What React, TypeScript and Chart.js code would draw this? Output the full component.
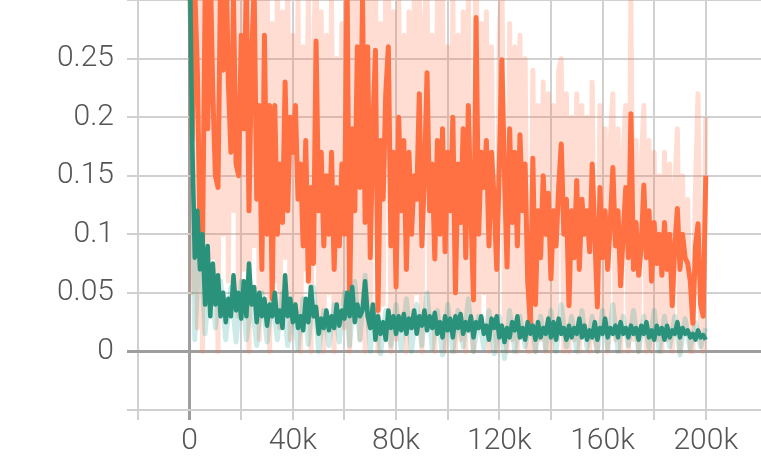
import React, { useEffect, useRef } from "react";
import { Chart, registerables } from "chart.js";

Chart.register(...registerables);

// step spacing (training steps) for the two sampling densities
const FINE_STEP = 1000;
const COARSE_STEP = 2000;

const ORANGE_SMOOTH = [
  0.34, 0.18, 0.31, 0.24, 0.10, 0.09, 0.30, 0.19, 0.33, 0.22,
  0.15, 0.14, 0.32, 0.24, 0.35, 0.23, 0.17, 0.30, 0.16, 0.15,
  0.27, 0.19, 0.32, 0.12, 0.25, 0.31, 0.13, 0.21, 0.07, 0.27,
  0.10, 0.21, 0.045, 0.21, 0.10, 0.16, 0.11, 0.23, 0.12, 0.20,
  0.17, 0.21, 0.13, 0.16, 0.09, 0.18, 0.06, 0.14, 0.075, 0.265,
  0.12, 0.17, 0.09, 0.15, 0.10, 0.17, 0.07, 0.14, 0.09, 0.16,
  0.10, 0.32, 0.04, 0.19, 0.12, 0.26, 0.14, 0.30, 0.11, 0.26,
  0.08, 0.19, 0.257, 0.035, 0.18, 0.13, 0.22, 0.26, 0.09, 0.17,
  0.055, 0.20, 0.12, 0.18, 0.07, 0.17, 0.10, 0.15, 0.13, 0.22,
  0.09, 0.15, 0.238, 0.12, 0.16, 0.079, 0.18, 0.10, 0.19, 0.085,
  0.17, 0.12, 0.20, 0.05, 0.16, 0.11, 0.19, 0.08, 0.21, 0.12,
  0.044, 0.285, 0.10, 0.17, 0.14, 0.18, 0.09, 0.17, 0.13, 0.07,
  0.16, 0.249, 0.15, 0.072, 0.19, 0.11, 0.17, 0.09, 0.185, 0.12,
  0.16, 0.06, 0.024, 0.165, 0.04, 0.12, 0.08, 0.15, 0.10, 0.135,
  0.062, 0.12, 0.09, 0.14, 0.177, 0.10, 0.13, 0.039, 0.12, 0.08,
  0.146, 0.07, 0.13, 0.10, 0.12, 0.085, 0.16, 0.10, 0.038, 0.14,
  0.08, 0.12, 0.07, 0.11, 0.157, 0.09, 0.12, 0.056, 0.10, 0.14,
  0.08, 0.203, 0.07, 0.11, 0.065, 0.09, 0.142, 0.08, 0.12, 0.06,
  0.11, 0.075, 0.10, 0.065, 0.11, 0.07, 0.10, 0.039, 0.09, 0.122,
  0.07, 0.10, 0.08, 0.075, 0.06, 0.024, 0.09, 0.109, 0.04, 0.03,
  0.15,
];

const ORANGE_RAW = [
  0.45, 0.05, 0.42, 0.02, 0.38, 0.0, 0.50, 0.04, 0.40, 0.08,
  0.36, 0.0, 0.44, 0.10, 0.47, 0.06, 0.33, 0.12, 0.41, 0.03,
  0.38, 0.07, 0.43, 0.0, 0.36, 0.09, 0.39, 0.01, 0.30, 0.05,
  0.34, 0.0, 0.28, 0.06, 0.31, 0.02, 0.29, 0.08, 0.33, 0.01,
  0.27, 0.04, 0.30, 0.0, 0.26, 0.07, 0.31, 0.0, 0.24, 0.35,
  0.03, 0.29, 0.0, 0.27, 0.05, 0.30, 0.0, 0.25, 0.04, 0.28,
  0.02, 0.42, 0.0, 0.31, 0.03, 0.36, 0.01, 0.40, 0.0, 0.33,
  0.02, 0.30, 0.34, 0.0, 0.28, 0.04, 0.32, 0.35, 0.0, 0.29,
  0.01, 0.31, 0.03, 0.27, 0.0, 0.29, 0.02, 0.30, 0.05, 0.33,
  0.0, 0.28, 0.32, 0.03, 0.27, 0.0, 0.30, 0.02, 0.31, 0.0,
  0.26, 0.03, 0.30, 0.0, 0.27, 0.01, 0.29, 0.0, 0.31, 0.04,
  0.0, 0.38, 0.02, 0.28, 0.05, 0.29, 0.0, 0.26, 0.03, 0.0,
  0.27, 0.33, 0.02, 0.0, 0.28, 0.01, 0.26, 0.0, 0.27, 0.02,
  0.25, 0.0, 0.0, 0.24, 0.0, 0.21, 0.01, 0.23, 0.0, 0.22,
  0.0, 0.21, 0.01, 0.24, 0.25, 0.0, 0.22, 0.0, 0.20, 0.01,
  0.22, 0.0, 0.21, 0.02, 0.20, 0.0, 0.23, 0.01, 0.0, 0.21,
  0.02, 0.19, 0.0, 0.18, 0.22, 0.01, 0.19, 0.0, 0.17, 0.21,
  0.0, 0.30, 0.01, 0.18, 0.0, 0.16, 0.21, 0.0, 0.18, 0.0,
  0.17, 0.01, 0.15, 0.0, 0.17, 0.01, 0.16, 0.0, 0.14, 0.19,
  0.0, 0.15, 0.02, 0.13, 0.0, 0.0, 0.14, 0.22, 0.01, 0.0,
  0.20,
];

const TEAL_SMOOTH = [
  0.35, 0.18, 0.08, 0.12, 0.07, 0.10, 0.04, 0.09, 0.03, 0.075,
  0.04, 0.065, 0.03, 0.05, 0.025, 0.045, 0.03, 0.065, 0.035, 0.05,
  0.028, 0.06, 0.03, 0.075, 0.04, 0.055, 0.025, 0.05, 0.03, 0.045,
  0.022, 0.04, 0.03, 0.05, 0.025, 0.035, 0.02, 0.065, 0.03, 0.045,
  0.025, 0.04, 0.02, 0.03, 0.018, 0.045, 0.025, 0.055, 0.03, 0.038,
  0.015, 0.028, 0.02, 0.035, 0.018, 0.03, 0.02, 0.04, 0.022, 0.035,
  0.028, 0.05, 0.03, 0.055, 0.025, 0.04, 0.03, 0.035, 0.06, 0.03,
  0.02, 0.04, 0.01, 0.03, 0.015, 0.025, 0.01, 0.035, 0.02, 0.03,
  0.015, 0.03, 0.018, 0.032, 0.015, 0.028, 0.02, 0.035, 0.015, 0.03,
  0.022, 0.035, 0.018, 0.03, 0.02, 0.033, 0.015, 0.025, 0.012, 0.03,
  0.018, 0.028, 0.012, 0.03, 0.02, 0.032, 0.015, 0.025, 0.018, 0.03,
  0.012, 0.025, 0.02, 0.03, 0.015, 0.022, 0.01, 0.028, 0.02, 0.03,
  0.012, 0.022, 0.008, 0.02, 0.012, 0.025, 0.018, 0.03, 0.012, 0.02,
  0.01, 0.025, 0.015, 0.022, 0.01, 0.025, 0.012, 0.02, 0.015, 0.028,
  0.012, 0.025, 0.01, 0.028, 0.015, 0.02, 0.01, 0.022, 0.012, 0.02,
  0.015, 0.028, 0.012, 0.022, 0.01, 0.018, 0.012, 0.025, 0.01, 0.02,
  0.015, 0.028, 0.012, 0.02, 0.015, 0.022, 0.012, 0.025, 0.015, 0.02,
  0.012, 0.022, 0.015, 0.02, 0.01, 0.022, 0.015, 0.025, 0.012, 0.018,
  0.01, 0.022, 0.015, 0.02, 0.01, 0.022, 0.012, 0.018, 0.015, 0.025,
  0.012, 0.02, 0.015, 0.018, 0.012, 0.015, 0.01, 0.018, 0.012, 0.014,
  0.01,
];

const TEAL_RAW = [
  0.32, 0.01, 0.10, 0.015, 0.07, 0.02, 0.06, 0.01, 0.055, 0.008,
  0.06, 0.01, 0.045, 0.005, 0.05, 0.008, 0.045, 0.01, 0.05, 0.005,
  0.04, 0.002, 0.045, 0.006, 0.055, 0.0, 0.035, 0.005, 0.04, 0.008,
  0.05, 0.005, 0.06, 0.01, 0.065, 0.0, 0.04, -0.002, 0.035, 0.005,
  0.04, 0.002, 0.045, 0.0, 0.04, 0.005, 0.05, 0.002, 0.035, -0.003,
  0.04, 0.0, 0.035, 0.004, 0.045, 0.0, 0.03, 0.003, 0.035, -0.002,
  0.03, -0.006, 0.035, 0.0, 0.03, 0.004, 0.035, 0.0, 0.03, 0.002,
  0.035, 0.0, 0.04, 0.004, 0.03, 0.0, 0.035, 0.003, 0.03, 0.0,
  0.035, 0.002, 0.04, 0.0, 0.03, 0.005, 0.035, 0.0, 0.03, 0.003,
  0.035, 0.0, 0.03, 0.004, 0.03, -0.003, 0.028, 0.002, 0.025, 0.004,
  0.02,
];

// x grid lines every 20k; only some carry a label
const X_GRID = [-20000, 0, 20000, 40000, 60000, 80000, 100000, 120000, 140000, 160000, 180000, 200000, 220000];
const X_TICK_VALUES = [0, 40000, 80000, 120000, 160000, 200000];
const X_TICK_TEXT = ["0", "40k", "80k", "120k", "160k", "200k"];
const Y_LABELS = ["0", "0.05", "0.1", "0.15", "0.2", "0.25"];

const toPoints = (arr: number[], step: number) =>
  arr.map((y, i) => ({ x: i * step, y }));

const FONT = { family: "Roboto", size: 30, weight: "300" as any, lineHeight: 1.2 };
const TEXT_COLOR = "#555555";
const GRID = "#d0d0d0";
const ZERO = "#9e9e9e";

export default function App() {
  const ref = useRef<HTMLCanvasElement | null>(null);

  useEffect(() => {
    if (!ref.current) return;
    const chart = new Chart(ref.current, {
      type: "line",
      data: {
        datasets: [
          {
            data: toPoints(TEAL_SMOOTH, FINE_STEP),
            borderColor: "#2a917b",
            borderWidth: 4.5,
            pointRadius: 0,
            tension: 0,
            borderJoinStyle: "round",
          },
          {
            data: toPoints(ORANGE_SMOOTH, FINE_STEP),
            borderColor: "#ff7043",
            borderWidth: 5,
            pointRadius: 0,
            tension: 0,
            borderJoinStyle: "round",
          },
          {
            data: toPoints(TEAL_RAW, COARSE_STEP),
            borderColor: "rgba(0,150,136,0.2)",
            borderWidth: 5,
            pointRadius: 0,
            tension: 0,
            borderJoinStyle: "round",
          },
          {
            data: toPoints(ORANGE_RAW, FINE_STEP),
            borderColor: "rgba(255,112,67,0.24)",
            borderWidth: 5,
            pointRadius: 0,
            tension: 0,
            borderJoinStyle: "round",
          },
        ],
      },
      options: {
        animation: false,
        responsive: false,
        devicePixelRatio: 1,
        layout: { padding: 0 },
        plugins: { legend: { display: false }, tooltip: { enabled: false } },
        scales: {
          x: {
            type: "linear",
            position: "bottom",
            min: -20000,
            max: 221400,
            border: { display: false },
            afterBuildTicks: (s: any) => {
              s.ticks = X_GRID.map((value) => ({ value }));
            },
            grid: {
              tickLength: 10,
              color: (ctx: any) => {
                const v = ctx.tick?.value;
                if (v === 0) return ZERO;
                if (v > 200000) return "rgba(0,0,0,0)";
                return GRID;
              },
              lineWidth: (ctx: any) => (ctx.tick?.value === 0 ? 3 : 2),
            },
            ticks: {
              autoSkip: false,
              maxRotation: 0,
              minRotation: 0,
              padding: 3,
              color: TEXT_COLOR,
              font: FONT,
              callback: (v: any) => {
                const idx = X_TICK_VALUES.indexOf(Math.round(Number(v)));
                return idx >= 0 ? X_TICK_TEXT[idx] : "";
              },
            },
            afterFit: (s: any) => {
              s.height = 51;
              s.paddingLeft = 0;
              s.paddingRight = 0;
            },
          },
          y: {
            type: "linear",
            min: -0.05,
            max: 0.3,
            border: { display: false },
            grid: {
              tickLength: 11,
              color: (ctx: any) =>
                Math.abs(ctx.tick?.value ?? 1) < 1e-9 ? ZERO : GRID,
              lineWidth: (ctx: any) =>
                Math.abs(ctx.tick?.value ?? 1) < 1e-9 ? 3 : 2,
            },
            ticks: {
              stepSize: 0.05,
              padding: 13,
              color: TEXT_COLOR,
              font: FONT,
              callback: (v: any) => {
                const r = Math.round(Number(v) * 100) / 100;
                const s = String(r);
                return Y_LABELS.includes(s) ? s : "";
              },
            },
            afterFit: (s: any) => {
              s.width = 138;
              s.paddingTop = 0;
              s.paddingBottom = 0;
            },
          },
        },
      },
    });
    return () => chart.destroy();
  }, []);

  return (
    <div
      style={{
        position: "fixed",
        left: 0,
        top: 0,
        width: 761,
        height: 461,
        overflow: "hidden",
        background: "#fff",
      }}
    >
      <canvas ref={ref} width={761} height={461} style={{ width: 761, height: 461, display: "block" }} />
    </div>
  );
}
